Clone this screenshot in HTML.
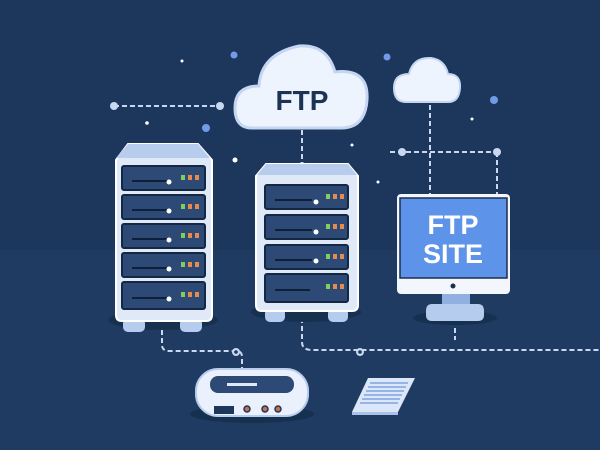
<!DOCTYPE html>
<html><head><style>html,body{margin:0;padding:0;background:#1c365c}svg{display:block}</style></head><body>
<svg width="600" height="450" viewBox="0 0 600 450" xmlns="http://www.w3.org/2000/svg" font-family="Liberation Sans, sans-serif">
<rect width="600" height="450" fill="#1c365c"/>
<rect y="250" width="600" height="200" fill="#1f3b62"/>
<g fill="none" stroke="#c8d8f0" stroke-width="2" stroke-dasharray="5,3">
<path d="M114 106H220"/><path d="M390 152H497"/><path d="M430 105V195"/><path d="M497 152V195"/>
<path d="M302 130V165"/><path d="M162 322V345q0 6 8 6H236q6 0 6 6V368"/>
<path d="M302 318V342q0 8 10 8H600"/><path d="M455 320V340"/>
</g>
<g fill="#c8d8f0"><circle cx="114" cy="106" r="4"/><circle cx="220" cy="106" r="4"/><circle cx="402" cy="152" r="4"/><circle cx="497" cy="152" r="4"/><circle cx="236" cy="352" r="4"/><circle cx="360" cy="352" r="4"/><circle cx="302" cy="165" r="3"/></g>
<g fill="#1c365c"><circle cx="236" cy="352" r="1.8"/><circle cx="360" cy="352" r="1.8"/></g>
<g fill="#6f9be8"><circle cx="234" cy="55" r="3.5"/><circle cx="206" cy="128" r="4"/><circle cx="387" cy="57" r="3.5"/><circle cx="494" cy="100" r="4"/></g>
<g fill="#fff"><circle cx="182" cy="61" r="1.5"/><circle cx="147" cy="123" r="1.8"/><circle cx="235" cy="160" r="2.5"/><circle cx="352" cy="145" r="1.5"/><circle cx="378" cy="182" r="1.5"/><circle cx="472" cy="119" r="1.5"/></g>
<!-- big cloud -->
<g fill="#eef4fd" stroke="#c4d6f2" stroke-width="3">
<path d="M252 128q-17 0-17-20q0-22 24-22q2-32 40-40q28-2 36 26q34-4 32 28q-2 28-26 28z"/>
</g>
<text x="302" y="110" text-anchor="middle" font-size="28" font-weight="bold" fill="#1c3356">FTP</text>
<!-- small cloud -->
<path d="M406 102q-12 0-12-14q0-14 15-14q4-17 22-16q14 2 17 16q13 0 12 14q-1 14-12 14z" fill="#eef4fd" stroke="#c4d6f2" stroke-width="2"/>
<!-- left server -->
<ellipse cx="163" cy="320" rx="55" ry="10" fill="#16304f"/>
<rect x="123" y="318" width="22" height="14" rx="5" fill="#b5ccef"/><rect x="180" y="318" width="22" height="14" rx="5" fill="#b5ccef"/>
<path d="M128 144H198L212 160V315q0 6-6 6H122q-6 0-6-6V160z" fill="#dfe9f8" stroke="#fff" stroke-width="2"/>
<path d="M128 144H198L210 158H116z" fill="#b8cdee"/>
<g>
<rect x="122" y="166" width="83" height="24" rx="2" fill="#2c4a75" stroke="#142844" stroke-width="2"/>
<rect x="122" y="195" width="83" height="24" rx="2" fill="#2c4a75" stroke="#142844" stroke-width="2"/>
<rect x="122" y="224" width="83" height="24" rx="2" fill="#2c4a75" stroke="#142844" stroke-width="2"/>
<rect x="122" y="253" width="83" height="24" rx="2" fill="#2c4a75" stroke="#142844" stroke-width="2"/>
<rect x="122" y="282" width="83" height="27" rx="2" fill="#2c4a75" stroke="#142844" stroke-width="2"/>
</g>
<g stroke="#0f1f38" stroke-width="2"><path d="M132 181H168M132 210H168M132 239H168M132 268H168M132 298H168"/></g>
<g fill="#fff"><circle cx="169" cy="182" r="2.5"/><circle cx="169" cy="211" r="2.5"/><circle cx="169" cy="240" r="2.5"/><circle cx="169" cy="269" r="2.5"/><circle cx="169" cy="299" r="2.5"/></g>
<g fill="#7fce5f"><rect x="181" y="175" width="4" height="5"/><rect x="181" y="204" width="4" height="5"/><rect x="181" y="233" width="4" height="5"/><rect x="181" y="262" width="4" height="5"/><rect x="181" y="292" width="4" height="5"/></g>
<g fill="#e88a4c"><rect x="188" y="175" width="4" height="5"/><rect x="195" y="175" width="4" height="5"/><rect x="188" y="204" width="4" height="5"/><rect x="195" y="204" width="4" height="5"/><rect x="188" y="233" width="4" height="5"/><rect x="195" y="233" width="4" height="5"/><rect x="188" y="262" width="4" height="5"/><rect x="195" y="262" width="4" height="5"/><rect x="188" y="292" width="4" height="5"/><rect x="195" y="292" width="4" height="5"/></g>
<!-- middle server -->
<ellipse cx="306" cy="312" rx="55" ry="10" fill="#16304f"/>
<rect x="265" y="308" width="20" height="14" rx="5" fill="#b5ccef"/><rect x="328" y="308" width="20" height="14" rx="5" fill="#b5ccef"/>
<path d="M266 164H348L358 176V305q0 6-6 6H262q-6 0-6-6V176z" fill="#dfe9f8" stroke="#fff" stroke-width="2"/>
<path d="M266 164H348L357 175H257z" fill="#b8cdee"/>
<rect x="265" y="185" width="83" height="24" rx="2" fill="#2c4a75" stroke="#142844" stroke-width="2"/>
<rect x="265" y="215" width="83" height="24" rx="2" fill="#2c4a75" stroke="#142844" stroke-width="2"/>
<rect x="265" y="245" width="83" height="24" rx="2" fill="#2c4a75" stroke="#142844" stroke-width="2"/>
<rect x="265" y="274" width="83" height="28" rx="2" fill="#2c4a75" stroke="#142844" stroke-width="2"/>
<g stroke="#0f1f38" stroke-width="2"><path d="M275 200H312M275 230H312M275 260H312M275 290H310"/></g>
<g fill="#fff"><circle cx="316" cy="202" r="2.5"/><circle cx="316" cy="232" r="2.5"/><circle cx="316" cy="261" r="2.5"/></g>
<g fill="#7fce5f"><rect x="326" y="194" width="4" height="5"/><rect x="326" y="224" width="4" height="5"/><rect x="326" y="254" width="4" height="5"/><rect x="326" y="284" width="4" height="5"/></g>
<g fill="#e88a4c"><rect x="333" y="194" width="4" height="5"/><rect x="340" y="194" width="4" height="5"/><rect x="333" y="224" width="4" height="5"/><rect x="340" y="224" width="4" height="5"/><rect x="333" y="254" width="4" height="5"/><rect x="340" y="254" width="4" height="5"/><rect x="333" y="284" width="4" height="5"/><rect x="340" y="284" width="4" height="5"/></g>
<!-- monitor -->
<ellipse cx="455" cy="318" rx="42" ry="7" fill="#16304f"/>
<rect x="442" y="290" width="28" height="16" fill="#8fb0e0"/>
<path d="M432 304H478q6 0 6 7v4q0 6-6 6H432q-6 0-6-6v-4q0-7 6-7z" fill="#b5ccef"/>
<rect x="397" y="194" width="113" height="100" rx="4" fill="#f3f7fd"/>
<rect x="400" y="198" width="107" height="80" fill="#5d93e8" stroke="#1a2e50" stroke-width="1.5"/>
<circle cx="453" cy="286" r="2.5" fill="#1a2e50"/>
<text x="453" y="234" text-anchor="middle" font-size="27" font-weight="bold" fill="#fff">FTP</text>
<text x="453" y="263" text-anchor="middle" font-size="27" font-weight="bold" fill="#fff">SITE</text>
<!-- router -->
<ellipse cx="252" cy="414" rx="62" ry="9" fill="#16304f"/>
<rect x="196" y="369" width="112" height="47" rx="22" fill="#eaf1fc" stroke="#b8cdee" stroke-width="2"/>
<rect x="210" y="376" width="84" height="17" rx="8" fill="#2c4a75"/>
<rect x="227" y="383" width="30" height="3" fill="#dfe9f8"/>
<rect x="214" y="406" width="20" height="8" fill="#1c365c"/>
<g fill="#c9713e" stroke="#1c365c" stroke-width="1.5"><circle cx="247" cy="409" r="3"/><circle cx="265" cy="409" r="3"/><circle cx="278" cy="409" r="3"/></g>
<!-- paper -->
<path d="M368 378H415L398 412H352z" fill="#dbe7f8"/>
<path d="M352 412H398V415H352z" fill="#aac2e8"/>
<g stroke="#7fa4e0" stroke-width="1.5"><path d="M370 383H408M368 387H406M366 391H404M364 395H402M362 399H400M360 403H398"/></g>
</svg>
</body></html>
